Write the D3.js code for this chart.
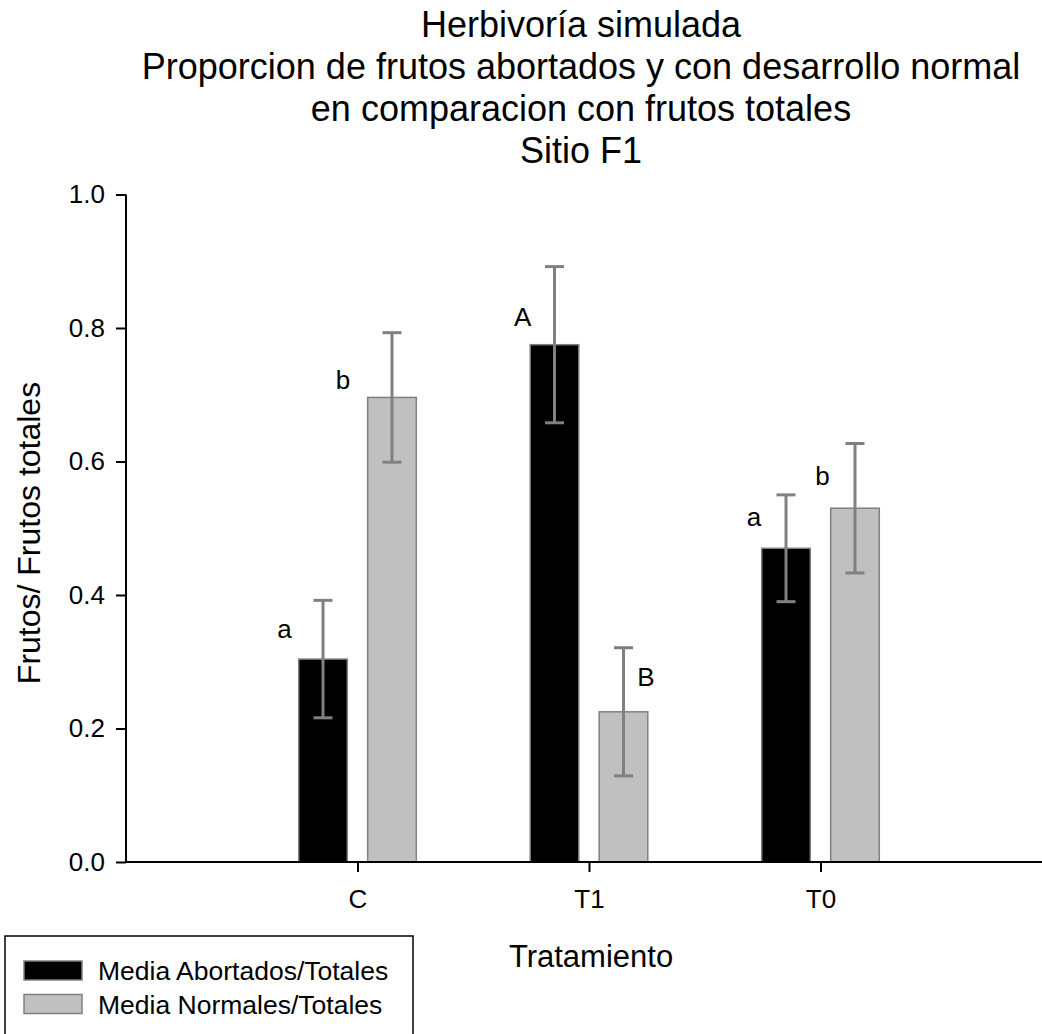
<!DOCTYPE html>
<html>
<head>
<meta charset="utf-8">
<script src="https://cdn.jsdelivr.net/npm/d3@7"></script>
<style>
  body { margin: 0; background: #fff; }
  text { font-family: "Liberation Sans", Arial, sans-serif; fill: #000; }
</style>
</head>
<body>
<script>
// data
var categories = ["C", "T1", "T0"];
var abortados = [0.304, 0.775, 0.470];
var abortadosErr = [0.088, 0.117, 0.080];
var normales = [0.696, 0.225, 0.530];
var normalesErr = [0.097, 0.096, 0.097];
var yTicks = [0, 0.2, 0.4, 0.6, 0.8, 1.0];

// significance letters (placed in data units)
var lettersAbort = ["a", "A", "a"];
var lettersAbortDx = [-0.315, -0.287, -0.287];
var lettersAbortY = [0.336, 0.803, 0.504];
var lettersNormal = ["b", "B", "b"];
var lettersNormalDx = [-0.063, 0.246, 0.009];
var lettersNormalY = [0.709, 0.263, 0.565];

var titleLines = ["Herbivoría simulada",
    "Proporcion de frutos abortados y con desarrollo normal",
    "en comparacion con frutos totales",
    "Sitio F1"];

var W = 1042, H = 1034;
var svg = d3.select("body").append("svg")
    .attr("width", W)
    .attr("height", H);

svg.append("rect").attr("width", W).attr("height", H).attr("fill", "#fff");

// scales
var xScale = d3.scaleLinear().domain([0, 4]).range([126, 1052]);
var yScale = d3.scaleLinear().domain([0, 1]).range([862, 194.5]);

var barW = 0.21, barOff = 0.149;

// bars
function drawSeries(values, errs, off, fill) {
    var g = svg.append("g");
    g.selectAll("rect")
        .data(values)
        .enter()
        .append("rect")
        .attr("x", function(d, i) { return xScale(i + 1 + off - barW / 2); })
        .attr("y", function(d) { return yScale(d); })
        .attr("width", xScale(barW) - xScale(0))
        .attr("height", function(d) { return yScale(0) - yScale(d); })
        .attr("fill", fill)
        .attr("stroke", "#808080")
        .attr("stroke-width", 1.5);

    // error bars
    var eb = g.selectAll("g.err")
        .data(values)
        .enter()
        .append("g")
        .attr("class", "err")
        .attr("stroke", "#808080")
        .attr("stroke-width", 3);
    eb.append("line")
        .attr("x1", function(d, i) { return xScale(i + 1 + off); })
        .attr("x2", function(d, i) { return xScale(i + 1 + off); })
        .attr("y1", function(d, i) { return yScale(d - errs[i]); })
        .attr("y2", function(d, i) { return yScale(d + errs[i]); });
    [1, -1].forEach(function(s) {
        eb.append("line")
            .attr("x1", function(d, i) { return xScale(i + 1 + off) - 9.5; })
            .attr("x2", function(d, i) { return xScale(i + 1 + off) + 9.5; })
            .attr("y1", function(d, i) { return yScale(d + s * errs[i]); })
            .attr("y2", function(d, i) { return yScale(d + s * errs[i]); });
    });
}
drawSeries(abortados, abortadosErr, -barOff, "#000000");
drawSeries(normales, normalesErr, barOff, "#c0c0c0");

// letters
function drawLetters(letters, dx, ys) {
    svg.append("g").selectAll("text")
        .data(letters)
        .enter()
        .append("text")
        .attr("x", function(d, i) { return xScale(i + 1 + dx[i]); })
        .attr("y", function(d, i) { return yScale(ys[i]); })
        .attr("text-anchor", "middle")
        .attr("font-size", "26px")
        .text(function(d) { return d; });
}
drawLetters(lettersAbort, lettersAbortDx, lettersAbortY);
drawLetters(lettersNormal, lettersNormalDx, lettersNormalY);

// axes
var yAxis = d3.axisLeft(yScale)
    .tickValues(yTicks)
    .tickFormat(d3.format(".1f"))
    .tickSize(10)
    .tickPadding(11);
var gy = svg.append("g")
    .attr("transform", "translate(" + xScale(0) + ",0)")
    .call(yAxis);

var xAxis = d3.axisBottom(xScale)
    .tickValues([1, 2, 3])
    .tickFormat(function(d) { return categories[d - 1]; })
    .tickSize(10)
    .tickPadding(18);
var gx = svg.append("g")
    .attr("transform", "translate(0," + yScale(0) + ")")
    .call(xAxis);

[gx, gy].forEach(function(g) {
    g.attr("font-size", 26).attr("font-family", "Liberation Sans, Arial, sans-serif");
    g.selectAll("path, line").attr("stroke", "#000").attr("stroke-width", 2);
    g.selectAll("text").style("font-size", "26px").attr("fill", "#000");
});
gx.select(".domain").attr("d", "M" + xScale(0) + ",0H" + xScale(4));
gy.select(".domain").attr("d", "M0," + yScale(0) + "V" + yScale(1));

// axis titles
svg.append("text")
    .attr("transform", "translate(40,533) rotate(-90)")
    .attr("text-anchor", "middle")
    .attr("font-size", "32px")
    .text("Frutos/ Frutos totales");

svg.append("text")
    .attr("x", 591)
    .attr("y", 967)
    .attr("text-anchor", "middle")
    .attr("font-size", "31px")
    .text("Tratamiento");

// title
svg.append("g").selectAll("text")
    .data(titleLines)
    .enter()
    .append("text")
    .attr("x", 581)
    .attr("y", function(d, i) { return 37 + i * 42; })
    .attr("text-anchor", "middle")
    .attr("font-size", "36px")
    .text(function(d) { return d; });

// legend
var legend = svg.append("g");
legend.append("rect")
    .attr("x", 5).attr("y", 936)
    .attr("width", 408).attr("height", 120)
    .attr("fill", "none")
    .attr("stroke", "#000")
    .attr("stroke-width", 1.5);
var legendItems = [
    { label: "Media Abortados/Totales", fill: "#000000" },
    { label: "Media Normales/Totales", fill: "#c0c0c0" }
];
var li = legend.selectAll("g.item")
    .data(legendItems)
    .enter()
    .append("g")
    .attr("class", "item")
    .attr("transform", function(d, i) { return "translate(0," + (i * 33.5) + ")"; });
li.append("rect")
    .attr("x", 24).attr("y", 961)
    .attr("width", 58).attr("height", 19)
    .attr("fill", function(d) { return d.fill; })
    .attr("stroke", "#808080")
    .attr("stroke-width", 1.5);
li.append("text")
    .attr("x", 98).attr("y", 980)
    .attr("font-size", "26.5px")
    .text(function(d) { return d.label; });
</script>
</body>
</html>
